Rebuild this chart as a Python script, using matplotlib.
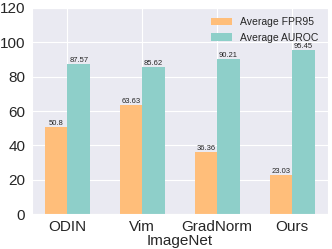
import matplotlib
matplotlib.use("Agg")
import matplotlib.pyplot as plt
import seaborn as sns
import numpy as np

methods = ["ODIN", "Vim", "GradNorm", "Ours"]
fpr95 = [50.8, 63.63, 36.36, 23.03]
auroc = [87.57, 85.62, 90.21, 95.45]

sns.set_style("darkgrid")
plt.rcParams['font.family'] = ['Liberation Sans', 'DejaVu Sans']

x = np.arange(len(methods))
w = 0.3

fig, ax = plt.subplots(figsize=(3.32, 2.49), dpi=100)
b1 = ax.bar(x - w / 2, fpr95, width=w, color='#FFBE7A', linewidth=0, label="Average FPR95")
b2 = ax.bar(x + w / 2, auroc, width=w, color='#8ECFC9', linewidth=0, label="Average AUROC")
ax.bar_label(b1, labels=[str(v) for v in fpr95], fontsize=5.5, padding=0)
ax.bar_label(b2, labels=[str(v) for v in auroc], fontsize=5.5, padding=0)

ax.set_xticks(x)
ax.set_xticklabels(methods, fontsize=11)
ax.set_ylim(0, 120)
ax.set_yticks(range(0, 121, 20))
ax.tick_params(axis='y', labelsize=11, pad=1)
ax.tick_params(axis='x', pad=1)
ax.set_xlabel("ImageNet", fontsize=11, labelpad=0)
ax.legend(fontsize=7.5, loc='upper right', frameon=False)

fig.subplots_adjust(left=0.095, right=0.988, top=0.968, bottom=0.14)
fig.savefig("out.png", dpi=100)
